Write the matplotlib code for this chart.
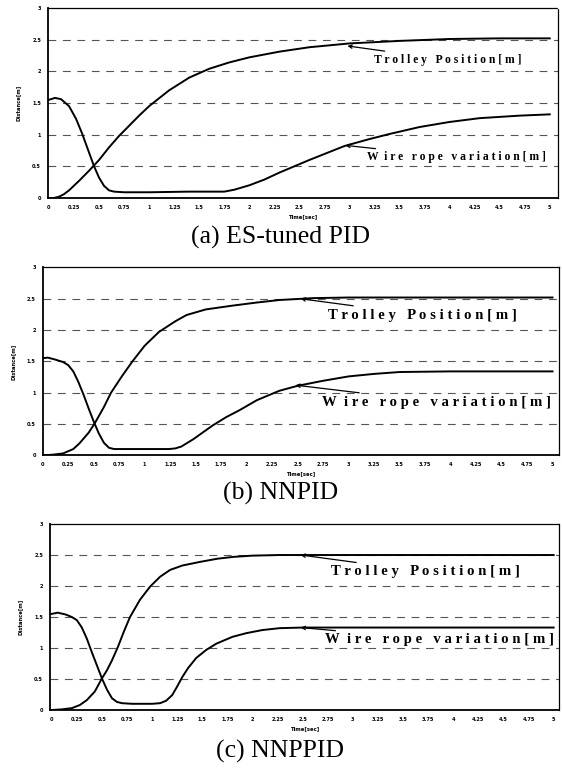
import matplotlib
matplotlib.use("Agg")
import matplotlib.pyplot as plt
import numpy as np

# ---- data ----
time_ticks = [0, 0.25, 0.5, 0.75, 1, 1.25, 1.5, 1.75, 2, 2.25, 2.5, 2.75, 3,
              3.25, 3.5, 3.75, 4, 4.25, 4.5, 4.75, 5]
time_tick_labels = ["0", "0.25", "0.5", "0.75", "1", "1.25", "1.5", "1.75", "2", "2.25",
                    "2.5", "2.75", "3", "3.25", "3.5", "3.75", "4", "4.25", "4.5", "4.75", "5"]
dist_ticks = [0, 0.5, 1, 1.5, 2, 2.5, 3]
dist_tick_labels = ["0", "0.5", "1", "1.5", "2", "2.5", "3"]

# (a) ES-tuned PID
a_trolley_t = [0, 0.05, 0.1, 0.15, 0.2, 0.3, 0.4, 0.5, 0.6, 0.7, 0.8, 0.9, 1.0, 1.2, 1.4,
               1.6, 1.8, 2.0, 2.3, 2.6, 3.0, 3.5, 4.0, 4.5, 5.0]
a_trolley = [0, 0, 0.02, 0.06, 0.12, 0.27, 0.43, 0.6, 0.8, 0.98, 1.14, 1.3, 1.45, 1.7, 1.9,
             2.04, 2.14, 2.22, 2.31, 2.38, 2.44, 2.48, 2.51, 2.52, 2.52]
a_wire_t = [0, 0.06, 0.12, 0.2, 0.27, 0.33, 0.39, 0.45, 0.5, 0.55, 0.6, 0.65, 0.75, 1.0,
            1.4, 1.75, 1.85, 2.0, 2.15, 2.3, 2.6, 2.95, 3.2, 3.4, 3.7, 4.0, 4.3, 4.7, 5.0]
a_wire = [1.55, 1.58, 1.56, 1.45, 1.25, 1.02, 0.76, 0.5, 0.32, 0.19, 0.12, 0.1, 0.09, 0.09,
          0.1, 0.1, 0.13, 0.2, 0.29, 0.4, 0.6, 0.82, 0.93, 1.01, 1.12, 1.2, 1.26, 1.3, 1.32]

# (b) NNPID
b_trolley_t = [0, 0.1, 0.2, 0.3, 0.36, 0.45, 0.51, 0.6, 0.67, 0.78, 0.88, 1.0, 1.14, 1.3,
               1.41, 1.6, 1.86, 2.1, 2.32, 2.65, 3.0, 4.0, 5.0]
b_trolley = [0, 0.01, 0.03, 0.1, 0.19, 0.36, 0.51, 0.77, 1.0, 1.27, 1.5, 1.75, 1.97, 2.14,
             2.24, 2.33, 2.39, 2.44, 2.48, 2.51, 2.52, 2.52, 2.52]
b_wire_t = [0, 0.05, 0.12, 0.2, 0.25, 0.3, 0.35, 0.4, 0.45, 0.5, 0.55, 0.6, 0.65, 0.7, 0.8,
            1.24, 1.3, 1.36, 1.41, 1.48, 1.54, 1.67, 1.8, 1.93, 2.1, 2.32, 2.5, 2.75, 3.0,
            3.25, 3.5, 4.0, 5.0]
b_wire = [1.55, 1.56, 1.53, 1.49, 1.44, 1.34, 1.17, 0.97, 0.75, 0.54, 0.35, 0.2, 0.12, 0.1,
          0.1, 0.1, 0.11, 0.14, 0.19, 0.26, 0.33, 0.48, 0.61, 0.72, 0.88, 1.03, 1.11, 1.19,
          1.26, 1.3, 1.33, 1.34, 1.34]

# (c) NNPPID
c_trolley_t = [0, 0.1, 0.2, 0.28, 0.35, 0.43, 0.5, 0.55, 0.6, 0.66, 0.72, 0.78, 0.88, 0.98,
               1.08, 1.18, 1.3, 1.48, 1.65, 1.81, 2.0, 2.27, 3.0, 5.0]
c_trolley = [0, 0.01, 0.03, 0.08, 0.16, 0.3, 0.51, 0.64, 0.8, 1.02, 1.27, 1.5, 1.78, 1.99,
             2.15, 2.26, 2.33, 2.39, 2.44, 2.47, 2.49, 2.5, 2.5, 2.5]
c_wire_t = [0, 0.06, 0.14, 0.2, 0.25, 0.3, 0.35, 0.4, 0.45, 0.5, 0.55, 0.6, 0.65, 0.7, 0.8,
            1.0, 1.08, 1.14, 1.2, 1.25, 1.3, 1.36, 1.44, 1.54, 1.64, 1.8, 1.94, 2.1, 2.27,
            2.5, 5.0]
c_wire = [1.55, 1.57, 1.54, 1.5, 1.45, 1.33, 1.15, 0.93, 0.72, 0.51, 0.33, 0.19, 0.13, 0.11,
          0.1, 0.1, 0.11, 0.15, 0.24, 0.38, 0.53, 0.68, 0.84, 0.97, 1.07, 1.18, 1.24, 1.29,
          1.32, 1.33, 1.33]

captions = ["(a) ES-tuned PID", "(b) NNPID", "(c) NNPPID"]
trolley_label = "T r o l l e y   P o s i t i o n [ m ]"
wire_label = "W  i r e   r o p e   v a r i a t i o n [ m ]"


def spaced_panel(ax, tt, tv, wt, wv, t_tip, t_txt, w_tip, w_txt, xmin, xmax, lab_size):
    for y in dist_ticks[1:-1]:
        ax.axhline(y, color="#555555", lw=0.8, ls=(0, (7, 6)), zorder=1)
    ax.plot(tt, tv, color="black", lw=1.4, zorder=3)
    ax.plot(wt, wv, color="black", lw=1.4, zorder=3)
    ax.set_xlim(xmin, xmax)
    ax.set_ylim(0, 3)
    ax.set_xticks(time_ticks)
    ax.set_xticklabels(time_tick_labels, fontsize=3.6, fontweight="bold")
    ax.set_yticks(dist_ticks)
    ax.set_yticklabels(dist_tick_labels, fontsize=3.6, fontweight="bold")
    ax.tick_params(length=0, pad=5)
    ax.set_xlabel("Time[sec]", fontsize=3.8, fontweight="bold", labelpad=3)
    ax.set_ylabel("Distance[m]", fontsize=3.8, fontweight="bold", labelpad=8)
    for s in ["left", "bottom"]:
        ax.spines[s].set_linewidth(1.3)
    for s in ["top", "right"]:
        ax.spines[s].set_linestyle((0, (1, 1)))
        ax.spines[s].set_linewidth(0.9)
    arrow = dict(arrowstyle="->", color="black", lw=0.9, shrinkA=0, shrinkB=0,
                 mutation_scale=6)
    ax.annotate(trolley_label, xy=t_tip, xytext=t_txt, fontsize=lab_size, fontweight="bold",
                family="Liberation Serif", va="center", ha="left", arrowprops=arrow)
    ax.annotate(wire_label, xy=w_tip, xytext=w_txt, fontsize=lab_size, fontweight="bold",
                family="Liberation Serif", va="center", ha="left", arrowprops=arrow)


fig = plt.figure(figsize=(5.62, 7.73), dpi=100)

ax_a = fig.add_axes([0.0854, 0.7439, 0.907, 0.2458])
spaced_panel(ax_a, a_trolley_t, a_trolley, a_wire_t, a_wire,
             (2.98, 2.4), (3.25, 2.18), (2.96, 0.83), (3.18, 0.64), -0.01, 5.08, 8.4)

ax_b = fig.add_axes([0.076, 0.411, 0.918, 0.243])
spaced_panel(ax_b, b_trolley_t, b_trolley, b_wire_t, b_wire,
             (2.53, 2.5), (2.8, 2.24), (2.48, 1.12), (2.74, 0.85), 0, 5.06, 10.6)

ax_c = fig.add_axes([0.089, 0.0815, 0.905, 0.2406])
spaced_panel(ax_c, c_trolley_t, c_trolley, c_wire_t, c_wire,
             (2.48, 2.5), (2.78, 2.23), (2.48, 1.33), (2.72, 1.13), -0.017, 5.05, 10.6)

for cap, ypix in zip(captions, [237, 493, 751]):
    fig.text(0.4985, 1 - ypix / 773, cap, ha="center", va="center", fontsize=18.5,
             family="Liberation Serif")

fig.savefig("out.png", dpi=100)
